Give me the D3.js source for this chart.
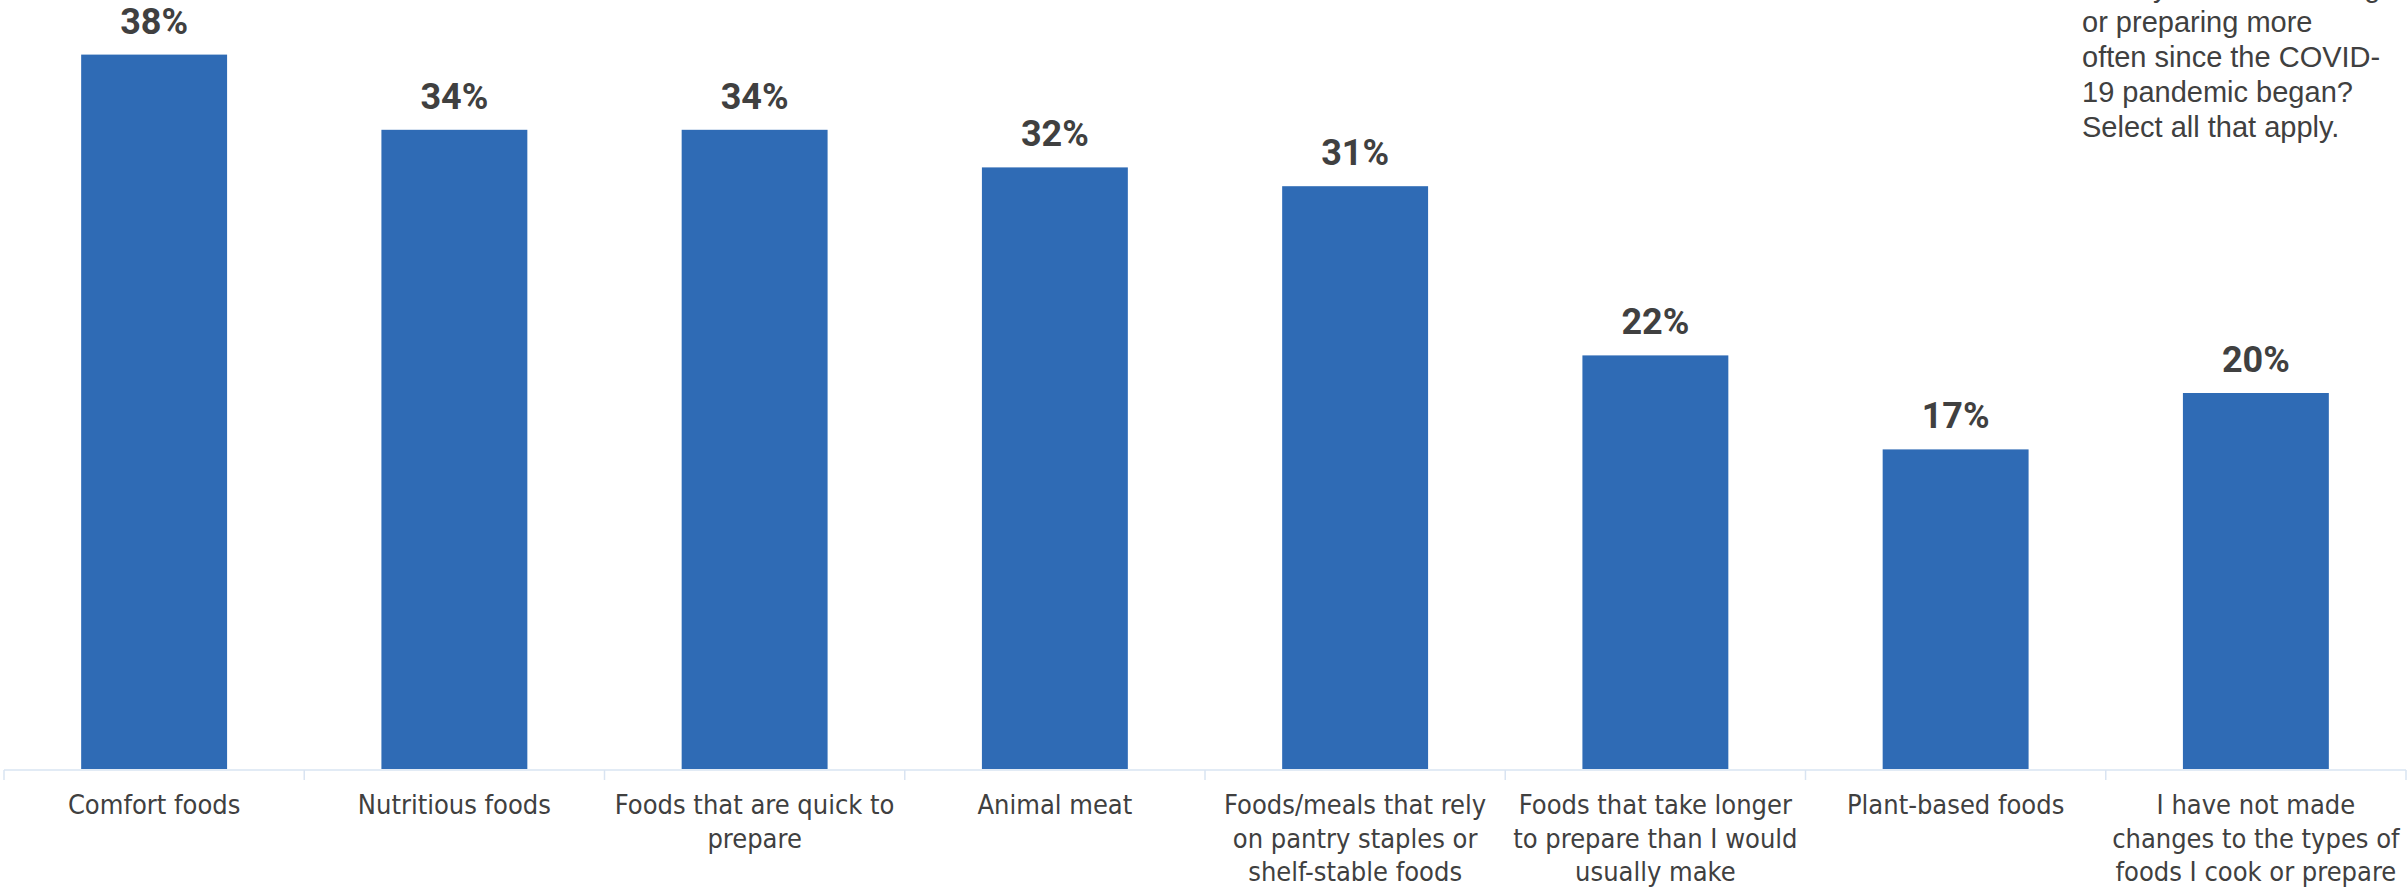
<!DOCTYPE html>
<html>
<head>
<meta charset="utf-8">
<script src="https://cdn.jsdelivr.net/npm/d3@7"></script>
<style>
  html, body { margin: 0; padding: 0; background: #ffffff; }
  svg { display: block; }
</style>
</head>
<body>
<svg id="chart" width="2408" height="887"></svg>
<script>
// Foods cooked or prepared more often since the pandemic began
const categories = [
  "Comfort foods",
  "Nutritious foods",
  "Foods that are quick to prepare",
  "Animal meat",
  "Foods/meals that rely on pantry staples or shelf-stable foods",
  "Foods that take longer to prepare than I would usually make",
  "Plant-based foods",
  "I have not made changes to the types of foods I cook or prepare"
];
const categoryLines = [
  ["Comfort foods"],
  ["Nutritious foods"],
  ["Foods that are quick to", "prepare"],
  ["Animal meat"],
  ["Foods/meals that rely", "on pantry staples or", "shelf-stable foods"],
  ["Foods that take longer", "to prepare than I would", "usually make"],
  ["Plant-based foods"],
  ["I have not made", "changes to the types of", "foods I cook or prepare"]
];
const shares = [38, 34, 34, 32, 31, 22, 17, 20];
const valueLabels = ["38%", "34%", "34%", "32%", "31%", "22%", "17%", "20%"];
const questionLines = [
  "have you been cooking",
  "or preparing more",
  "often since the COVID-",
  "19 pandemic began?",
  "Select all that apply."
];

const svg = d3.select("#chart");
const axisY = 770;

const x = d3.scaleBand()
  .domain(categories)
  .range([4, 2406])
  .paddingInner(0.514)
  .paddingOuter(0.257);

const y = d3.scaleLinear()
  .domain([0, 40])
  .range([769, 769 - 40 * 18.8]);

// bars
svg.append("g")
  .selectAll("rect")
  .data(categories)
  .join("rect")
  .attr("x", d => x(d))
  .attr("y", (d, i) => y(shares[i]))
  .attr("width", x.bandwidth())
  .attr("height", (d, i) => y(0) - y(shares[i]))
  .attr("fill", "#2f6bb5");

// value labels
svg.append("g")
  .selectAll("text")
  .data(categories)
  .join("text")
  .attr("x", d => x(d) + x.bandwidth() / 2)
  .attr("y", (d, i) => y(shares[i]) - 21)
  .attr("text-anchor", "middle")
  .attr("font-family", "Roboto, 'Liberation Sans', sans-serif")
  .attr("font-weight", "bold")
  .attr("font-size", 36)
  .attr("fill", "#404040")
  .text((d, i) => valueLabels[i]);

// category axis: baseline with ticks between bands
const axis = svg.append("g").attr("stroke", "#d9e4f2");
const [r0, r1] = x.range();
axis.append("line")
  .attr("x1", r0).attr("x2", r1)
  .attr("y1", axisY).attr("y2", axisY)
  .attr("stroke-width", 1.5);
const bounds = d3.range(categories.length + 1).map(i => r0 + i * x.step());
axis.selectAll("line.tick")
  .data(bounds)
  .join("line")
  .attr("class", "tick")
  .attr("x1", d => d).attr("x2", d => d)
  .attr("y1", axisY).attr("y2", axisY + 10)
  .attr("stroke-width", 1.5);

// category labels
const labels = svg.append("g")
  .attr("font-family", "'Liberation Sans Narrow', 'DejaVu Sans Condensed', sans-serif")
  .attr("font-size", 27)
  .attr("fill", "#404040")
  .attr("text-anchor", "middle");
labels.selectAll("text")
  .data(categories)
  .join("text")
  .attr("transform", d => `translate(${x(d) + x.bandwidth() / 2},814)`)
  .each(function(d, i) {
    d3.select(this).selectAll("tspan")
      .data(categoryLines[i])
      .join("tspan")
      .attr("x", 0)
      .attr("y", (t, j) => j * 33.5)
      .text(t => t);
  });

// question text in the top-right corner
svg.append("g")
  .attr("font-family", "'Liberation Sans', Arial, sans-serif")
  .attr("font-size", 29)
  .attr("fill", "#404040")
  .selectAll("text")
  .data(questionLines)
  .join("text")
  .attr("x", 2082)
  .attr("y", (d, i) => -3.3 + i * 35)
  .text(d => d);
</script>
</body>
</html>
